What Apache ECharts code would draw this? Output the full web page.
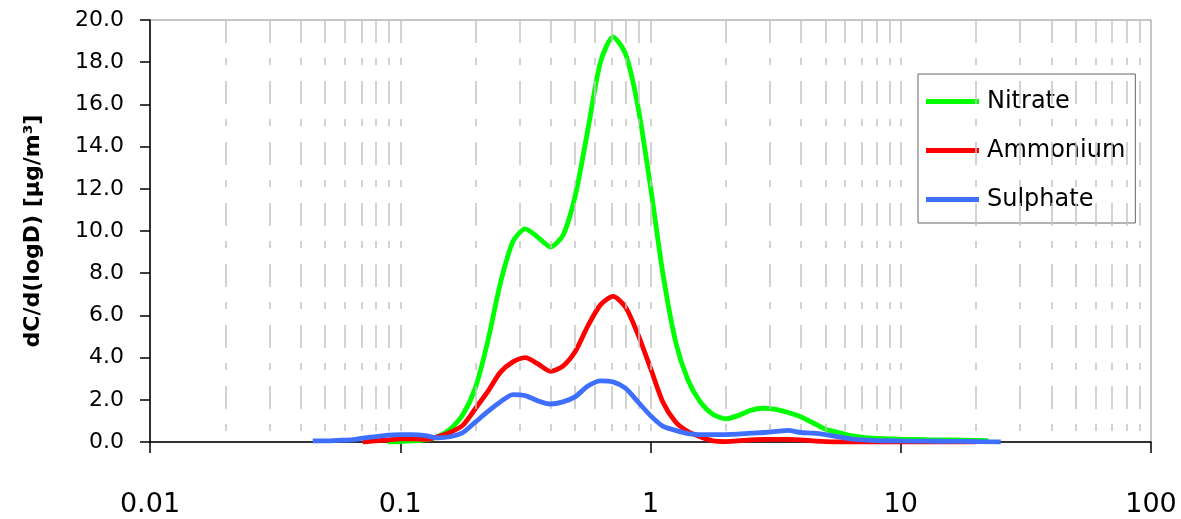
<!DOCTYPE html>
<html>
<head>
<meta charset="utf-8">
<script src="https://cdn.jsdelivr.net/npm/echarts@6/dist/echarts.min.js"></script>
<style>html,body{margin:0;padding:0;background:#fff;}#c{width:1181px;height:519px;}</style>
</head>
<body>
<div id="c"></div>
<script>
// Particle diameters (µm)
var diameters = [0.0447,0.0501,0.0562,0.0631,0.0708,0.0794,0.0891,0.1,0.112,0.126,0.141,0.158,0.178,0.2,0.224,0.251,0.282,0.316,0.355,0.398,0.447,0.501,0.562,0.631,0.708,0.794,0.891,1,1.12,1.26,1.41,1.58,1.78,2,2.24,2.51,2.82,3.16,3.55,3.98,4.47,5.01,5.62,6.31,7.08,7.94,10,12.6,15.8,20,22.4,25.1];
var nitrate = [null,null,null,null,null,null,0.0,0.02,0.05,0.1,0.25,0.6,1.3,2.6,4.8,7.5,9.5,10.1,9.7,9.25,9.8,11.7,14.8,18.0,19.2,18.4,15.9,12.1,8.0,4.75,2.95,1.9,1.3,1.1,1.25,1.5,1.6,1.55,1.4,1.2,0.9,0.6,0.45,0.3,0.22,0.18,0.13,0.11,0.1,0.08,0.06,null];
var ammonium = [null,null,null,null,0.0,0.05,0.1,0.15,0.15,0.12,0.25,0.45,0.8,1.6,2.4,3.3,3.8,4.0,3.7,3.35,3.6,4.3,5.5,6.5,6.9,6.4,5.1,3.5,1.9,0.95,0.5,0.25,0.05,0.02,0.05,0.1,0.12,0.12,0.12,0.1,0.05,0.02,0,0,0,0,0,0,0,0,null,null];
var sulphate = [0.05,0.05,0.08,0.1,0.18,0.25,0.33,0.35,0.35,0.3,0.2,0.25,0.45,0.95,1.45,1.9,2.25,2.2,1.95,1.8,1.9,2.15,2.65,2.9,2.85,2.55,1.9,1.25,0.75,0.55,0.4,0.35,0.35,0.35,0.37,0.42,0.45,0.5,0.55,0.45,0.42,0.35,0.25,0.15,0.1,0.07,0.05,0.04,0.03,0.02,0.01,0.0];
// vertical grid line positions
var gridX = [0.02,0.03,0.04,0.05,0.06,0.07,0.08,0.09,0.1,0.2,0.3,0.4,0.5,0.6,0.7,0.8,0.9,1,2,3,4,5,6,7,8,9,10,20,30,40,50,60,70,80,90];
var seriesNames = ['Nitrate','Ammonium','Sulphate'];
var seriesColors = ['#00ff00','#ff0000','#3f6fff'];
var yMax = 20;

function pairs(vals){ return diameters.map(function(d,i){ return [d, vals[i]]; }); }
var FONT = 'DejaVu Sans';
var chart = echarts.init(document.getElementById('c'));
var lines = [nitrate, ammonium, sulphate].map(function(v,i){
  return {
    name: seriesNames[i], type:'line', data: pairs(v), symbol:'none', showSymbol:false,
    smooth:0.25, z: 3+i, lineStyle:{color:seriesColors[i], width:4.8}, itemStyle:{color:seriesColors[i]},
    connectNulls:false, animation:false
  };
});
var gridSeries = {
  name:'grid', type:'line', data:[], z:1, silent:true, animation:false,
  markLine:{
    silent:true, symbol:['none','none'], label:{show:false}, animation:false,
    lineStyle:{color:'#c4c4c4', width:1.5, type:[23,15,7,16]},
    emphasis:{disabled:true},
    data: gridX.map(function(x){ return [{coord:[x,yMax]},{coord:[x,0]}]; })
  }
};
chart.setOption({
  backgroundColor:'#fff',
  animation:false,
  grid:{left:150, right:30, top:20, bottom:77, show:true, borderColor:'#8c8c8c', borderWidth:1},
  legend:{
    data: seriesNames, orient:'vertical', left:918, top:74,
    backgroundColor:'#fff', borderColor:'#666', borderWidth:1,
    padding:[15,10,11,8], itemGap:24, itemWidth:53, itemHeight:5,
    textStyle:{fontFamily:FONT, fontSize:24, color:'#000', lineHeight:25, padding:[0,0,0,3]},
    icon:'rect'
  },
  xAxis:{
    type:'log', logBase:10, min:0.01, max:100,
    axisLine:{lineStyle:{color:'#000', width:1.5}},
    axisTick:{show:true, length:11, lineStyle:{color:'#000', width:1.5}},
    minorTick:{show:false},
    splitLine:{show:false},
    axisLabel:{fontFamily:FONT, fontSize:27, color:'#000', margin:49,
      formatter:function(v){ return String(+v.toPrecision(3)); }}
  },
  yAxis:{
    type:'value', min:0, max:yMax, interval:2,
    name:'dC/d(logD) [µg/m³]', nameLocation:'middle', nameGap:106, nameRotate:90,
    nameTextStyle:{fontFamily:FONT, fontSize:22, fontWeight:'bold', color:'#000'},
    axisLine:{show:true, lineStyle:{color:'#000', width:1.5}},
    axisTick:{show:true, length:10, lineStyle:{color:'#000', width:1.5}},
    splitLine:{show:false},
    axisLabel:{fontFamily:FONT, fontSize:22, color:'#000', margin:26,
      formatter:function(v){ return v.toFixed(1); }}
  },
  series:[gridSeries].concat(lines)
});
</script>
</body>
</html>
